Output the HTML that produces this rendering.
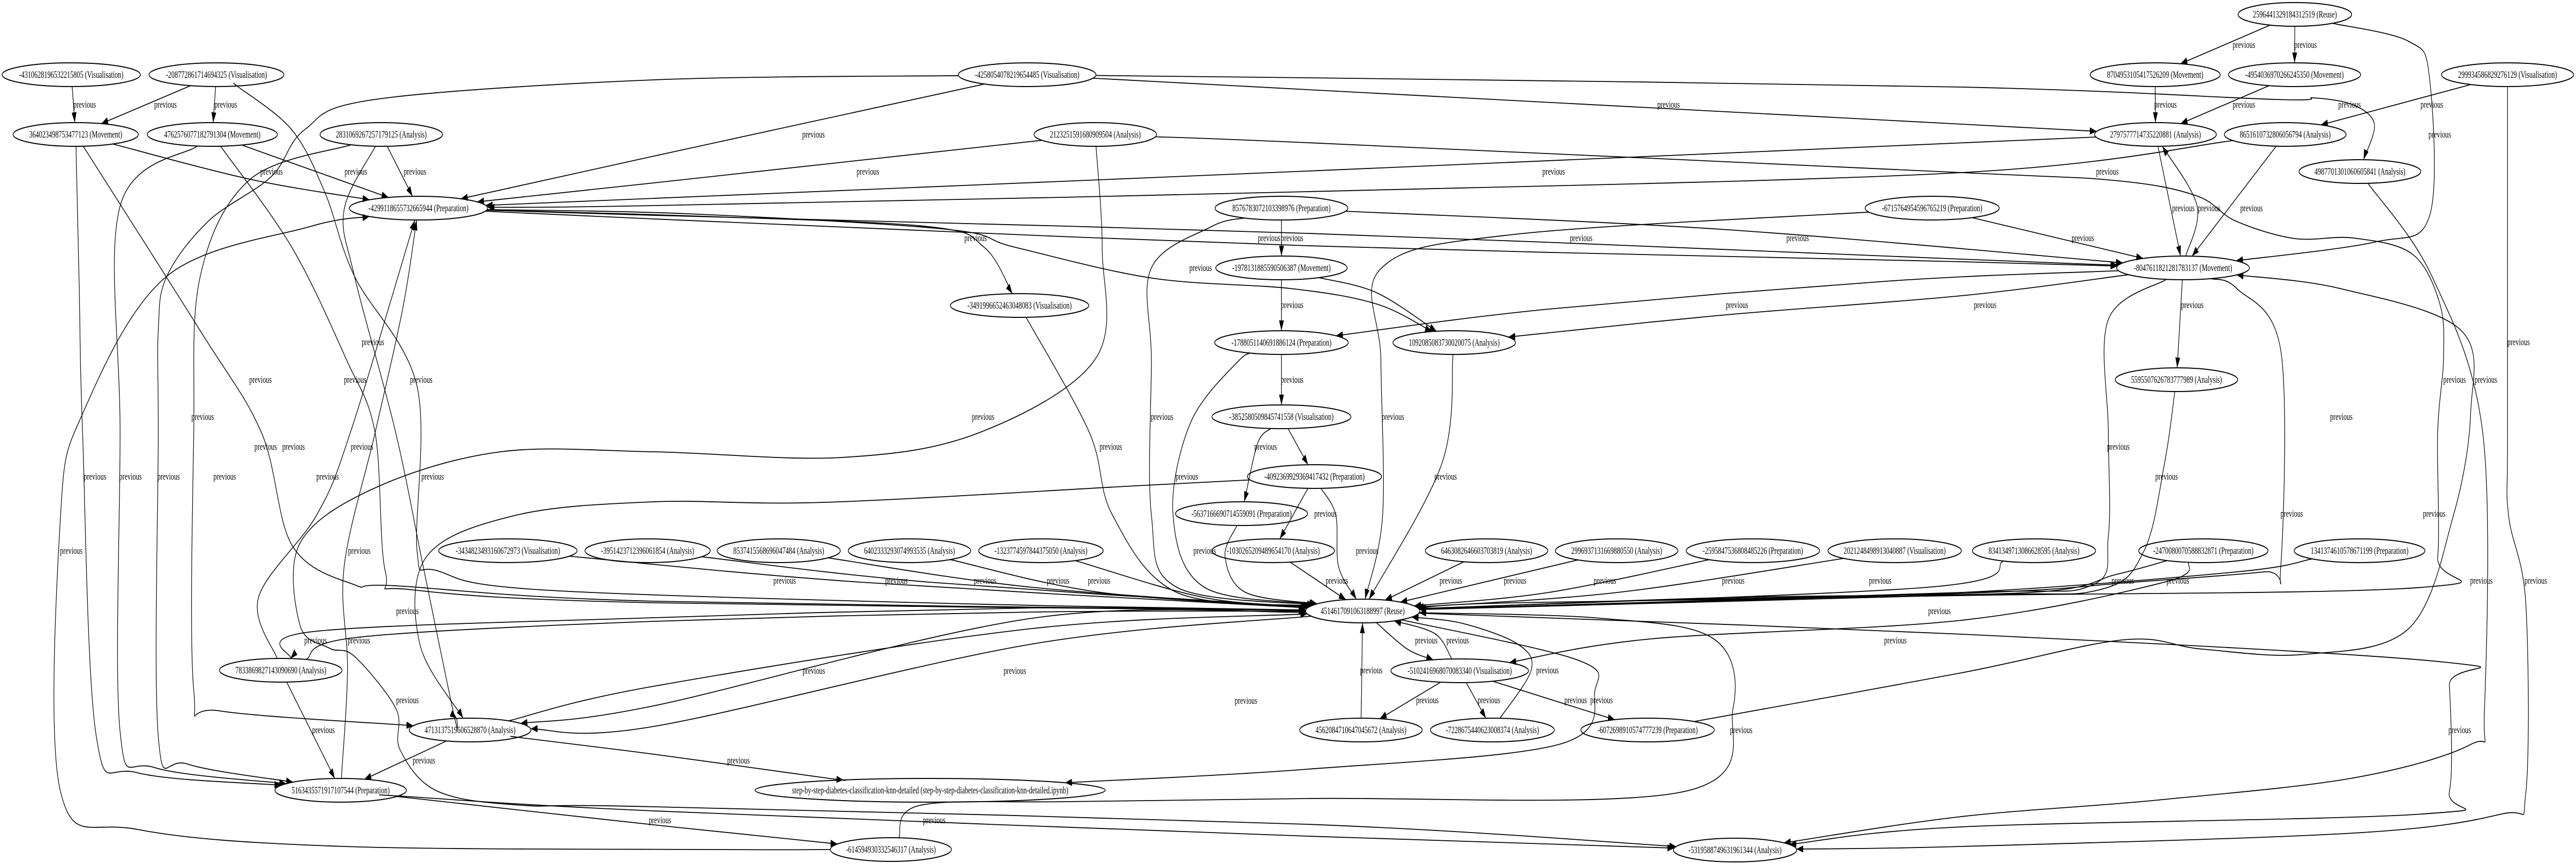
<!DOCTYPE html>
<html><head><meta charset="utf-8">
<style>
html,body{margin:0;padding:0;background:#fff;width:100%;height:100%;overflow:hidden;}
svg{display:block;position:absolute;left:0;top:0;width:100vw;height:100vh;}
text{font-family:"Liberation Serif","Times New Roman",serif;font-size:19px;fill:#000;}
.n text{text-anchor:middle;}
.l{text-anchor:middle;}
ellipse{fill:none;stroke:#000;stroke-width:2;}
#edges path{fill:none;stroke:#000;stroke-width:1.8;}
</style></head>
<body>
<svg id="g" viewBox="0 0 7486 1679" preserveAspectRatio="none" xmlns="http://www.w3.org/2000/svg">
<defs><marker id="ar" markerUnits="userSpaceOnUse" markerWidth="22" markerHeight="16" refX="20" refY="7" orient="auto"><path d="M0,0 L20,7 L0,14 z" fill="#000"/></marker></defs>
<g id="edges"></g>
<g class="n">
<ellipse id="n1" cx="207" cy="145" rx="201" ry="23"/><text x="207" y="151">-4310628196532215805 (Visualisation)</text>
<ellipse id="n2" cx="629" cy="145" rx="196" ry="23"/><text x="629" y="151">-208772861714694325 (Visualisation)</text>
<ellipse id="n3" cx="220" cy="261" rx="182" ry="23"/><text x="220" y="267">364023498753477123 (Movement)</text>
<ellipse id="n4" cx="617" cy="261" rx="189" ry="23"/><text x="617" y="267">4762576077182791304 (Movement)</text>
<ellipse id="n5" cx="1108" cy="261" rx="178" ry="23"/><text x="1108" y="267">2831069267257179125 (Analysis)</text>
<ellipse id="n6" cx="1216" cy="404" rx="201" ry="23"/><text x="1216" y="410">-4299118655732665944 (Preparation)</text>
<ellipse id="n7" cx="1476" cy="1069" rx="201" ry="23"/><text x="1476" y="1075">-3434823493160672973 (Visualisation)</text>
<ellipse id="n8" cx="1882" cy="1069" rx="182" ry="23"/><text x="1882" y="1075">-3951423712396061854 (Analysis)</text>
<ellipse id="n9" cx="816" cy="1301" rx="178" ry="23"/><text x="816" y="1307">7833869827143090690 (Analysis)</text>
<ellipse id="n10" cx="1366" cy="1417" rx="177" ry="23"/><text x="1366" y="1423">4713137519606528870 (Analysis)</text>
<ellipse id="n11" cx="990" cy="1534" rx="191" ry="23"/><text x="990" y="1540">5163435571917107544 (Preparation)</text>
<ellipse id="n12" cx="2985" cy="145" rx="200" ry="23"/><text x="2985" y="151">-4258054078219654485 (Visualisation)</text>
<ellipse id="n13" cx="3183" cy="261" rx="178" ry="23"/><text x="3183" y="267">2123251591680909504 (Analysis)</text>
<ellipse id="n14" cx="3724" cy="404" rx="193" ry="23"/><text x="3724" y="410">8576783072103398976 (Preparation)</text>
<ellipse id="n15" cx="3724" cy="520" rx="191" ry="23"/><text x="3724" y="526">-1978131885590506387 (Movement)</text>
<ellipse id="n16" cx="2963" cy="593" rx="201" ry="23"/><text x="2963" y="599">-3491996652463048083 (Visualisation)</text>
<ellipse id="n17" cx="3724" cy="665" rx="194" ry="23"/><text x="3724" y="671">-1788051140691886124 (Preparation)</text>
<ellipse id="n18" cx="3724" cy="809" rx="202" ry="23"/><text x="3724" y="815">-3852580509845741558 (Visualisation)</text>
<ellipse id="n19" cx="3820" cy="925" rx="195" ry="23"/><text x="3820" y="931">-4092369929369417432 (Preparation)</text>
<ellipse id="n20" cx="3608" cy="997" rx="192" ry="23"/><text x="3608" y="1003">-5637166690714559091 (Preparation)</text>
<ellipse id="n21" cx="3700" cy="1069" rx="178" ry="23"/><text x="3700" y="1075">-1030265209489654170 (Analysis)</text>
<ellipse id="n22" cx="2263" cy="1069" rx="179" ry="23"/><text x="2263" y="1075">8537415568696047484 (Analysis)</text>
<ellipse id="n23" cx="2643" cy="1069" rx="178" ry="23"/><text x="2643" y="1075">6402333293074993535 (Analysis)</text>
<ellipse id="n24" cx="3025" cy="1069" rx="181" ry="23"/><text x="3025" y="1075">-1323774597844375050 (Analysis)</text>
<ellipse id="n25" cx="2703" cy="1534" rx="509" ry="23"/><text x="2703" y="1540">step-by-step-diabetes-classification-knn-detailed (step-by-step-diabetes-classification-knn-detailed.ipynb)</text>
<ellipse id="n26" cx="2589" cy="1649" rx="176" ry="23"/><text x="2589" y="1655">-614594930332546317 (Analysis)</text>
<ellipse id="n27" cx="5615" cy="404" rx="195" ry="23"/><text x="5615" y="410">-6715764954596765219 (Preparation)</text>
<ellipse id="n28" cx="4226" cy="665" rx="178" ry="23"/><text x="4226" y="671">1092085083730020075 (Analysis)</text>
<ellipse id="n29" cx="3960" cy="1186" rx="166" ry="23"/><text x="3960" y="1192">4514617091063188997 (Reuse)</text>
<ellipse id="n30" cx="4320" cy="1069" rx="178" ry="23"/><text x="4320" y="1075">6463082646603703819 (Analysis)</text>
<ellipse id="n31" cx="4698" cy="1069" rx="178" ry="23"/><text x="4698" y="1075">2996937131669880550 (Analysis)</text>
<ellipse id="n32" cx="5094" cy="1069" rx="194" ry="23"/><text x="5094" y="1075">-2595847536808485226 (Preparation)</text>
<ellipse id="n33" cx="5506" cy="1069" rx="194" ry="23"/><text x="5506" y="1075">2021248498913040887 (Visualisation)</text>
<ellipse id="n34" cx="4242" cy="1302" rx="200" ry="23"/><text x="4242" y="1308">-5102416968070083340 (Visualisation)</text>
<ellipse id="n35" cx="3955" cy="1417" rx="178" ry="23"/><text x="3955" y="1423">4562084710647045672 (Analysis)</text>
<ellipse id="n36" cx="4337" cy="1417" rx="180" ry="23"/><text x="4337" y="1423">-7228675440623008374 (Analysis)</text>
<ellipse id="n37" cx="4788" cy="1417" rx="194" ry="23"/><text x="4788" y="1423">-6072698910574777239 (Preparation)</text>
<ellipse id="n38" cx="5042" cy="1650" rx="179" ry="23"/><text x="5042" y="1656">-5319588749631961344 (Analysis)</text>
<ellipse id="n39" cx="6669" cy="28" rx="165" ry="23"/><text x="6669" y="34">2596441329184312519 (Reuse)</text>
<ellipse id="n40" cx="6263" cy="145" rx="189" ry="23"/><text x="6263" y="151">8704953105417526209 (Movement)</text>
<ellipse id="n41" cx="6668" cy="145" rx="192" ry="23"/><text x="6668" y="151">-4954036970266245350 (Movement)</text>
<ellipse id="n42" cx="7287" cy="145" rx="192" ry="23"/><text x="7287" y="151">299934586829276129 (Visualisation)</text>
<ellipse id="n43" cx="6264" cy="261" rx="177" ry="23"/><text x="6264" y="267">2797577714735220881 (Analysis)</text>
<ellipse id="n44" cx="6641" cy="261" rx="177" ry="23"/><text x="6641" y="267">8651610732806056794 (Analysis)</text>
<ellipse id="n45" cx="6858" cy="333" rx="177" ry="23"/><text x="6858" y="339">4987701301060605841 (Analysis)</text>
<ellipse id="n46" cx="6344" cy="520" rx="193" ry="23"/><text x="6344" y="526">-8047611821281783137 (Movement)</text>
<ellipse id="n47" cx="6325" cy="737" rx="178" ry="23"/><text x="6325" y="743">5595507626783777989 (Analysis)</text>
<ellipse id="n48" cx="5911" cy="1069" rx="179" ry="23"/><text x="5911" y="1075">8341349713086628595 (Analysis)</text>
<ellipse id="n49" cx="6403" cy="1069" rx="188" ry="23"/><text x="6403" y="1075">-2470080070588832871 (Preparation)</text>
<ellipse id="n50" cx="6857" cy="1069" rx="190" ry="23"/><text x="6857" y="1075">1341374610578671199 (Preparation)</text>
</g>
<g class="l">
<text x="246" y="209">previous</text><text x="481" y="209">previous</text><text x="656" y="209">previous</text>
<text x="789" y="339">previous</text><text x="1034" y="339">previous</text><text x="1206" y="339">previous</text>
<text x="1084" y="670">previous</text><text x="757" y="743">previous</text><text x="1032" y="743">previous</text><text x="1224" y="743">previous</text><text x="589" y="815">previous</text>
<text x="772" y="873">previous</text><text x="853" y="873">previous</text><text x="1052" y="873">previous</text>
<text x="276" y="931">previous</text><text x="379" y="931">previous</text><text x="490" y="931">previous</text><text x="653" y="931">previous</text><text x="952" y="931">previous</text><text x="1257" y="931">previous</text>
<text x="207" y="1075">previous</text><text x="1044" y="1075">previous</text><text x="1184" y="1192">previous</text>
<text x="917" y="1249">previous</text><text x="1043" y="1249">previous</text><text x="1184" y="1365">previous</text><text x="940" y="1423">previous</text><text x="1232" y="1482">previous</text>
<text x="2364" y="267">previous</text><text x="2522" y="339">previous</text><text x="2835" y="468">previous</text><text x="3688" y="468">previous</text><text x="3755" y="468">previous</text>
<text x="3489" y="526">previous</text><text x="3755" y="598">previous</text><text x="2857" y="815">previous</text><text x="3377" y="815">previous</text><text x="3755" y="743">previous</text>
<text x="3228" y="873">previous</text><text x="3678" y="873">previous</text><text x="3449" y="931">previous</text><text x="3501" y="1075">previous</text>
<text x="2280" y="1133">previous</text><text x="2605" y="1133">previous</text><text x="2863" y="1133">previous</text><text x="3075" y="1133">previous</text><text x="3194" y="1133">previous</text>
<text x="2365" y="1308">previous</text><text x="2949" y="1308">previous</text><text x="3621" y="1366">previous</text><text x="2146" y="1482">previous</text><text x="2715" y="1598">previous</text><text x="1918" y="1598">previous</text>
<text x="4849" y="209">previous</text><text x="4515" y="339">previous</text><text x="4595" y="468">previous</text><text x="5224" y="468">previous</text><text x="5048" y="598">previous</text><text x="4048" y="815">previous</text>
<text x="3852" y="1003">previous</text><text x="3973" y="1075">previous</text><text x="4201" y="931">previous</text>
<text x="3885" y="1133">previous</text><text x="4216" y="1133">previous</text><text x="4403" y="1133">previous</text><text x="4664" y="1133">previous</text><text x="5037" y="1133">previous</text><text x="5464" y="1133">previous</text>
<text x="5636" y="1192">previous</text><text x="5508" y="1249">previous</text><text x="4145" y="1249">previous</text><text x="4236" y="1249">previous</text>
<text x="3985" y="1307">previous</text><text x="4497" y="1307">previous</text><text x="4148" y="1365">previous</text><text x="4327" y="1365">previous</text><text x="4579" y="1365">previous</text><text x="4654" y="1365">previous</text><text x="5060" y="1423">previous</text>
<text x="6521" y="93">previous</text><text x="6700" y="93">previous</text><text x="6293" y="209">previous</text><text x="6521" y="209">previous</text><text x="6828" y="209">previous</text><text x="7067" y="209">previous</text><text x="7090" y="267">previous</text>
<text x="6124" y="339">previous</text><text x="6345" y="410">previous</text><text x="6420" y="410">previous</text><text x="6543" y="410">previous</text><text x="6053" y="468">previous</text>
<text x="5769" y="598">previous</text><text x="6371" y="598">previous</text><text x="7319" y="670">previous</text><text x="7133" y="743">previous</text><text x="7224" y="743">previous</text><text x="6804" y="815">previous</text>
<text x="6156" y="873">previous</text><text x="6296" y="931">previous</text><text x="6660" y="1003">previous</text><text x="7074" y="1003">previous</text>
<text x="6169" y="1133">previous</text><text x="6329" y="1133">previous</text><text x="7211" y="1133">previous</text><text x="7369" y="1133">previous</text><text x="7148" y="1423">previous</text>
</g>
</svg>
<script>
(function(){
var E=[
["n1","n3"],["n2","n3"],["n2","n4"],
["n2","n29",[[691,168],[848,252],[945,375],[1030,536],[1212,750],[1212,1070],[1272,1108],[1575,1145],[2800,1172]]],
["n3","n6",[[727,348]]],["n4","n6"],["n5","n6"],
["n12","n6",[[1900,303]]],["n13","n6",[[1900,355]]],
["n43","n6",[[3800,332],[1900,385]]],["n44","n6",[[5700,335],[3800,372],[1900,399]]],
["n12","n43",[[3800,174],[5700,241]]],
["n12","n45",[[3800,151],[5700,169],[6611,193],[6725,190],[6840,204],[6900,241]]],
["n12","n11",[[1900,155],[1090,193],[885,252],[788,343],[606,429],[485,536],[460,640],[460,840],[460,1430],[545,1483]]],
["n13","n29",[[3800,277],[5700,335],[6156,351],[6383,380],[6497,429],[6668,463],[6839,462],[7010,493],[7090,589],[7101,696],[7084,840],[7084,1081],[7040,1140],[5700,1156],[4400,1170]]],
["n13","n38",[[3203,482],[3184,696],[2845,840],[2445,888],[1900,877],[1454,877],[1090,947],[872,1054],[872,1214],[957,1258],[1030,1274],[1151,1376],[1163,1456],[1272,1536],[1515,1563],[1900,1566],[3800,1600]]],
["n6","n16",[[2050,420],[2700,440],[2860,480]]],
["n6","n28",[[2000,415],[2750,445],[2950,480],[3350,540],[3750,560],[4000,590]]],
["n6","n46",[[1900,418],[3800,453],[5700,503]]],
["n6","n46",[[1900,425],[3800,477],[5700,508]]],
["n14","n46",[[5000,445]]],["n27","n46"],
["n14","n15"],["n15","n17"],["n17","n18"],
["n14","n29",[[3520,440],[3346,520],[3346,700],[3346,1000],[3420,1140]]],
["n15","n28",[[4000,568]]],
["n46","n17",[[5500,545],[4500,600]]],
["n46","n28",[[5700,574],[5000,612]]],
["n17","n29",[[3600,700],[3460,820],[3409,1000],[3500,1140]]],
["n18","n19"],["n18","n20",[[3655,860]]],["n19","n21"],
["n19","n29",[[3882,1000],[3890,1100]]],
["n20","n29",[[3560,1080],[3620,1150]]],
["n21","n29"],
["n19","n10",[[3300,943],[2400,975],[1900,974],[1500,1000],[1240,1080],[1220,1250]]],
["n16","n29",[[3166,840],[3233,1000],[3420,1150]]],
["n27","n29",[[4400,455],[4015,520],[4013,700],[4018,1000]]],
["n28","n29",[[4190,900]]],
["n39","n40"],["n39","n41"],
["n39","n46",[[6999,80],[7060,150],[7060,420],[6900,470]]],
["n40","n43"],["n41","n43"],["n42","n44"],
["n43","n46"],["n46","n43",[[6385,400]]],["n44","n46"],["n46","n47"],
["n47","n29",[[6290,900],[6230,1070],[6100,1145],[5700,1155]]],
["n45","n38",[[7067,536],[7215,840],[7220,1376],[7180,1445],[6839,1510],[6270,1553],[5700,1585]]],
["n42","n38",[[7287,840],[7290,1000],[7340,1170],[7340,1540],[7270,1580],[6840,1617],[5700,1643]]],
["n46","n29",[[6127,620],[6127,840],[6127,1040],[6075,1137],[5700,1150]]],
["n46","n29",[[6500,560],[6628,680],[6628,1100],[6580,1110],[6200,1130],[5700,1152]]],
["n26","n6",[[2100,1649],[1000,1643],[400,1610],[176,1537],[176,1000],[242,800],[485,536],[900,440]]],
["n11","n38",[[1157,1545],[1900,1574],[3800,1623]]],
["n11","n26",[[1900,1601]]],
["n26","n29",[[2675,1563],[3100,1556],[3800,1550],[4890,1537],[5036,1376],[4980,1240],[4650,1200]]],
["n29","n25",[[4580,1280],[4635,1340],[4530,1445],[3800,1493]]],
["n29","n38",[[5700,1231],[7100,1285],[7118,1330],[7118,1536],[7040,1580],[5700,1605]]],
["n7","n29",[[2500,1130]]],["n8","n29",[[2700,1130]]],["n22","n29",[[3000,1140]]],["n23","n29",[[3200,1150]]],["n24","n29",[[3500,1160]]],
["n30","n29"],["n31","n29"],["n32","n29",[[4500,1150]]],["n33","n29",[[4700,1150]]],
["n48","n29",[[5600,1140]]],["n49","n29",[[6150,1115],[5900,1150],[5000,1160]]],["n50","n29",[[6500,1110],[5700,1150],[4800,1165]]],
["n49","n34",[[6290,1130],[5700,1204],[4800,1240]]],
["n29","n34",[[4090,1260]]],["n34","n29",[[4170,1230]]],
["n34","n35"],["n34","n36"],["n34","n37"],["n35","n29"],
["n36","n29",[[4450,1300],[4410,1250],[4250,1210]]],
["n37","n46",[[5700,1306],[6170,1242],[6400,1260],[6700,1270],[7000,1220],[7130,1000],[7180,800],[7150,640],[6800,560]]],
["n29","n9",[[3000,1180],[1900,1199],[909,1226]]],
["n9","n29",[[1040,1237],[1900,1206],[3000,1188]]],
["n9","n11"],["n10","n11"],
["n29","n10",[[3000,1200],[1900,1370]]],
["n29","n10",[[3000,1250],[1900,1410]]],
["n10","n29",[[1900,1332],[3000,1220]]],
["n10","n25",[[1515,1432],[1900,1464],[2400,1510]]],
["n3","n11",[[230,550],[240,840],[280,1430],[400,1500]]],
["n4","n11",[[349,400],[349,840],[349,1420],[450,1490]]],
["n3","n29",[[580,640],[760,840],[850,1060],[1030,1135],[1150,1137],[1900,1167]]],
["n4","n29",[[848,480],[1006,697],[1090,840],[1120,1110],[1200,1145],[1900,1170]]],
["n5","n10",[[1000,407],[1030,536],[1150,840],[1230,1100],[1320,1390]]],
["n5","n10",[[727,348],[582,536],[563,840],[563,1340],[640,1380]]],
["n9","n6",[[751,1160],[920,1000],[1018,840]]],
["n11","n6",[[1010,1300],[1000,1100],[1090,840],[1170,600]]]
];
function geo(id){var e=document.getElementById(id);return {cx:+e.getAttribute("cx"),cy:+e.getAttribute("cy"),rx:+e.getAttribute("rx"),ry:+e.getAttribute("ry")};}
function bnd(n,p){var dx=p[0]-n.cx,dy=p[1]-n.cy;var s=1/Math.sqrt((dx/n.rx)*(dx/n.rx)+(dy/n.ry)*(dy/n.ry));return [n.cx+dx*s,n.cy+dy*s];}
function cl(p){return [Math.max(2,Math.min(7484,p[0])),Math.max(2,Math.min(1677,p[1]))];}
var g=document.getElementById("edges"),out="";
E.forEach(function(e){
 var a=geo(e[0]),b=geo(e[1]),w=(e[2]||[]).map(cl);
 var p0=bnd(a,w.length?w[0]:[b.cx,b.cy]);
 var pn=bnd(b,w.length?w[w.length-1]:[a.cx,a.cy]);
 var P=[p0].concat(w,[pn]);
 var d="M"+P[0][0].toFixed(1)+","+P[0][1].toFixed(1);
 if(P.length==2){d+=" L"+P[1][0].toFixed(1)+","+P[1][1].toFixed(1);}
 else{
  for(var i=0;i<P.length-1;i++){
   var q0=P[i-1]||P[i],q1=P[i],q2=P[i+1],q3=P[i+2]||P[i+1];
   var c1=cl([q1[0]+(q2[0]-q0[0])/6,q1[1]+(q2[1]-q0[1])/6]);
   var c2=cl([q2[0]-(q3[0]-q1[0])/6,q2[1]-(q3[1]-q1[1])/6]);
   d+=" C"+c1[0].toFixed(1)+","+c1[1].toFixed(1)+" "+c2[0].toFixed(1)+","+c2[1].toFixed(1)+" "+q2[0].toFixed(1)+","+q2[1].toFixed(1);
  }
 }
 out+='<path d="'+d+'" marker-end="url(#ar)"/>';
});
g.innerHTML=out;
})();
</script>
</body></html>
